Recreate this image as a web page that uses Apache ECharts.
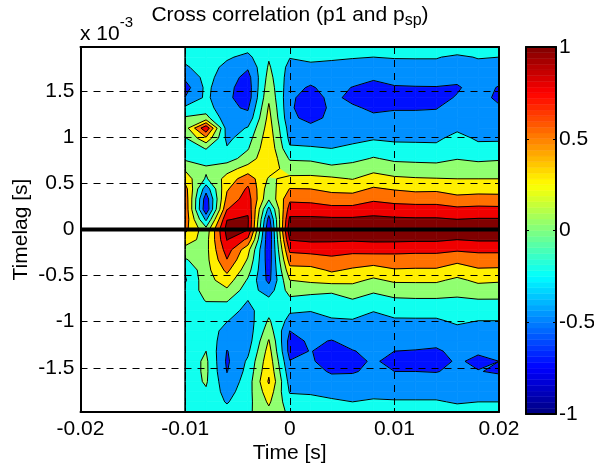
<!DOCTYPE html>
<html>
<head>
<meta charset="utf-8">
<script src="https://cdn.jsdelivr.net/npm/echarts@6/dist/echarts.min.js"></script>
<style>html,body{margin:0;padding:0;background:#fff}#c{width:594px;height:465px}</style>
</head>
<body>
<div id="c"></div>
<script>
// Time grid [s] and lag grid [ms, top to bottom]
var timeS = [-0.01,-0.008,-0.006,-0.004,-0.002,0,0.002,0.004,0.006,0.008,0.01,0.012,0.014,0.016,0.018,0.02];
var lagMs = [1.98,1.87,1.76,1.65,1.54,1.43,1.32,1.21,1.10,0.99,0.88,0.77,0.66,0.55,0.44,0.33,0.22,0.11,0,
  -0.11,-0.22,-0.33,-0.44,-0.55,-0.66,-0.77,-0.88,-0.99,-1.10,-1.21,-1.32,-1.43,-1.54,-1.65,-1.76,-1.87,-1.98];

// Correlation, one list per time column, from the top lag to the bottom lag
var corrT00 = [-.38,-.44,-.53,-.70,-.86,-.74,-.45,-.22,-.12,-.28,-.36,-.30,-.04,.14,.36,.42,.44,.42,.32,.12,-.08,-.28,-.47,-.53,-.42,-.38,-.37,-.40,-.42,-.43,-.42,-.40,-.40,-.39,-.38,-.37,-.36];
var corrT01 = [-.35,-.38,-.40,-.42,-.44,-.45,-.38,-.16,.70,.20,-.24,-.36,-.21,-.28,-.65,-.90,-.95,-.55,-.16,-.10,-.08,-.08,-.09,-.10,-.16,-.24,-.33,-.38,-.37,-.31,-.25,-.20,-.20,-.22,-.28,-.34,-.38];
var corrT02 = [-.36,-.47,-.56,-.62,-.68,-.70,-.70,-.67,-.62,-.56,-.48,-.36,-.10,.10,.22,.33,.49,.74,.85,.76,.62,.49,.31,.13,-.04,-.23,-.38,-.49,-.58,-.67,-.76,-.79,-.76,-.68,-.60,-.52,-.42];
var corrT03 = [-.42,-.56,-.72,-.84,-.88,-.88,-.78,-.67,-.48,-.36,-.27,-.14,.10,.40,.54,.62,.70,.78,.76,.45,.08,-.03,-.15,-.28,-.38,-.50,-.58,-.62,-.63,-.62,-.55,-.46,-.42,-.38,-.35,-.33,-.30];
var corrT04 = [-.30,-.27,-.22,-.16,-.10,-.04,.03,.08,.12,.16,.19,.20,.12,-.03,-.14,-.22,-.58,-.85,-.98,-.97,-.93,-.90,-.86,-.82,-.62,-.44,-.32,-.22,-.12,.02,.10,.16,.21,.28,.15,.04,-.06];
var corrT05 = [-.38,-.49,-.57,-.62,-.66,-.70,-.71,-.69,-.61,-.56,-.47,-.28,-.11,.05,.26,.45,.62,.80,.92,.76,.55,.36,.17,.00,-.15,-.31,-.47,-.58,-.75,-.84,-.84,-.74,-.66,-.59,-.52,-.40,-.30];
var corrT06 = [-.37,-.46,-.54,-.65,-.78,-.87,-.90,-.83,-.68,-.58,-.48,-.30,-.10,.05,.25,.43,.62,.80,.93,.80,.58,.38,.18,.05,-.17,-.36,-.49,-.60,-.66,-.71,-.74,-.72,-.66,-.59,-.52,-.45,-.40];
var corrT07 = [-.36,-.48,-.54,-.58,-.65,-.68,-.70,-.69,-.62,-.58,-.50,-.36,-.19,.04,.19,.36,.58,.79,.93,.79,.60,.44,.28,.12,-.23,-.30,-.42,-.53,-.65,-.76,-.85,-.86,-.78,-.66,-.56,-.47,-.38];
var corrT08 = [-.37,-.49,-.56,-.63,-.76,-.82,-.71,-.65,-.60,-.55,-.46,-.33,-.13,-.01,.17,.36,.58,.79,.93,.78,.58,.37,.22,.06,-.11,-.27,-.38,-.52,-.62,-.68,-.76,-.82,-.77,-.67,-.59,-.50,-.40];
var corrT09 = [-.38,-.50,-.59,-.72,-.82,-.88,-.80,-.70,-.63,-.52,-.39,-.23,-.07,.10,.28,.46,.64,.81,.93,.80,.58,.38,.14,-.04,-.21,-.36,-.49,-.58,-.62,-.66,-.70,-.72,-.70,-.64,-.57,-.47,-.39];
var corrT10 = [-.37,-.49,-.56,-.67,-.77,-.84,-.77,-.69,-.62,-.54,-.43,-.30,-.13,.04,.23,.42,.60,.79,.93,.80,.57,.40,.23,.04,-.14,-.29,-.42,-.53,-.62,-.68,-.75,-.82,-.75,-.66,-.58,-.48,-.39];
var corrT11 = [-.37,-.49,-.55,-.68,-.76,-.83,-.77,-.69,-.62,-.54,-.44,-.31,-.15,.02,.19,.40,.59,.78,.92,.79,.56,.39,.22,.04,-.13,-.28,-.41,-.53,-.62,-.68,-.76,-.82,-.75,-.66,-.58,-.48,-.39];
var corrT12 = [-.37,-.49,-.55,-.66,-.76,-.83,-.76,-.69,-.62,-.54,-.45,-.32,-.16,.01,.20,.40,.59,.78,.92,.79,.56,.39,.22,.04,-.13,-.28,-.41,-.53,-.62,-.69,-.78,-.84,-.76,-.66,-.58,-.48,-.39];
var corrT13 = [-.40,-.53,-.58,-.68,-.78,-.73,-.66,-.58,-.54,-.43,-.36,-.26,-.13,.00,.13,.33,.55,.75,.90,.75,.53,.31,.13,-.05,-.17,-.29,-.37,-.46,-.56,-.63,-.69,-.72,-.70,-.66,-.60,-.52,-.42];
var corrT14 = [-.37,-.49,-.55,-.60,-.64,-.66,-.65,-.62,-.58,-.53,-.44,-.30,-.14,.00,.16,.34,.57,.77,.92,.78,.55,.38,.22,.05,-.11,-.27,-.38,-.50,-.60,-.66,-.72,-.80,-.74,-.66,-.58,-.50,-.41];
var corrT15 = [-.38,-.50,-.56,-.66,-.77,-.80,-.72,-.65,-.59,-.53,-.43,-.28,-.12,.00,.15,.34,.56,.77,.92,.78,.55,.38,.21,.03,-.12,-.27,-.39,-.50,-.58,-.63,-.68,-.75,-.78,-.66,-.58,-.50,-.41];
var corrColumns = [corrT00,corrT01,corrT02,corrT03,corrT04,corrT05,corrT06,corrT07,corrT08,corrT09,corrT10,corrT11,corrT12,corrT13,corrT14,corrT15];

var contourLevels = [-0.75,-0.5,-0.25,0,0.25,0.5,0.75];
var bandColors = ['#0010ff','#0090ff','#10ffef','#90ff70','#ffef00','#ff7000','#f00000','#800000'];

var yTicks = [-1.5,-1,-0.5,0,0.5,1,1.5];
var zeroLineTimes = [-0.02,0.02];
var barSteps = 64;

var FONT = '"Liberation Sans",Arial,sans-serif';
var FS = 21;

function jet(p){ // MATLAB jet colormap at p in 0..1
  function c(v){return Math.round(255*Math.max(0,Math.min(1,v)));}
  var r=Math.min(4*p-1.5,-4*p+4.5), g=Math.min(4*p-0.5,-4*p+3.5), b=Math.min(4*p+0.5,-4*p+2.5);
  return 'rgb('+c(r)+','+c(g)+','+c(b)+')';
}

var nT = timeS.length, nL = lagMs.length, cells = [];
for (var i=0;i<nT-1;i++) for (var j=0;j<nL-1;j++) cells.push([timeS[i],lagMs[j],i,j]);

function corners(i,j){
  return [[timeS[i],lagMs[j],corrColumns[i][j]],
          [timeS[i+1],lagMs[j],corrColumns[i+1][j]],
          [timeS[i+1],lagMs[j+1],corrColumns[i+1][j+1]],
          [timeS[i],lagMs[j+1],corrColumns[i][j+1]]];
}
function lerp(a,b,L){var f=(L-a[2])/(b[2]-a[2]);return [a[0]+(b[0]-a[0])*f,a[1]+(b[1]-a[1])*f,L];}
function clip(poly,L,keepAbove){
  var out=[];
  for(var k=0;k<poly.length;k++){
    var a=poly[k],b=poly[(k+1)%poly.length];
    var ia=keepAbove?a[2]>=L:a[2]<=L, ib=keepAbove?b[2]>=L:b[2]<=L;
    if(ia) out.push(a);
    if(ia!==ib) out.push(lerp(a,b,L));
  }
  return out;
}
function renderFill(params,api){
  var idx=params.dataIndex, i=cells[idx][2], j=cells[idx][3], q=corners(i,j), kids=[];
  for(var b=0;b<bandColors.length;b++){
    var p=q;
    if(b>0) p=clip(p,contourLevels[b-1],true);
    if(p.length&&b<contourLevels.length) p=clip(p,contourLevels[b],false);
    if(p.length>2){
      kids.push({type:'polygon',shape:{points:p.map(function(v){return api.coord([v[0],v[1]]);})},
        style:{fill:bandColors[b],stroke:bandColors[b],lineWidth:0.7},silent:true});
    }
  }
  return {type:'group',children:kids};
}
function renderLines(params,api){
  var idx=params.dataIndex, i=cells[idx][2], j=cells[idx][3], q=corners(i,j), kids=[];
  var style={stroke:'#000',lineWidth:1,opacity:1};
  contourLevels.forEach(function(L){
    var pts=[];
    for(var k=0;k<4;k++){
      var a=q[k],b=q[(k+1)%4];
      if((a[2]<L)!==(b[2]<L)) pts.push(lerp(a,b,L));
    }
    if(pts.length===4){
      var mean=(q[0][2]+q[1][2]+q[2][2]+q[3][2])/4;
      var hi0=q[0][2]>=L;
      if(hi0===(mean>=L)) pts=[pts[1],pts[2],pts[3],pts[0]];
    }
    for(var s=0;s+1<pts.length;s+=2){
      var p0=api.coord([pts[s][0],pts[s][1]]),p1=api.coord([pts[s+1][0],pts[s+1][1]]);
      kids.push({type:'line',shape:{x1:p0[0],y1:p0[1],x2:p1[0],y2:p1[1]},style:style,silent:true});
    }
  });
  if(i===0){
    var a0=api.coord([timeS[0],lagMs[j]]),a1=api.coord([timeS[0],lagMs[j+1]]);
    kids.push({type:'line',shape:{x1:a0[0],y1:a0[1],x2:a1[0],y2:a1[1]},style:{stroke:'#000',lineWidth:1.6},silent:true});
  }
  return {type:'group',children:kids};
}
var barData=[];
for(var s=0;s<barSteps;s++) barData.push([0,-1+2*s/barSteps,s]);
function renderBar(params,api){
  var s=params.dataIndex;
  var a=api.coord([0,-1+2*s/barSteps]),b=api.coord([1,-1+2*(s+1)/barSteps]);
  var col=jet((s+0.5)/barSteps);
  return {type:'rect',shape:{x:a[0],y:b[1],width:b[0]-a[0],height:a[1]-b[1]},style:{fill:col,stroke:col,lineWidth:0.5},silent:true};
}
var blackLine={show:true,onZero:false,lineStyle:{color:'#000',width:2}};
var dash={show:true,lineStyle:{color:'#000',width:1,type:[7,6]}};

var option={
  animation:false,
  backgroundColor:'#fff',
  title:[
    {text:'Cross correlation (p1 and p{s|sp})',left:285,top:-4,textAlign:'center',
     textStyle:{fontFamily:FONT,fontSize:FS,fontWeight:'normal',color:'#000',lineHeight:28,
       rich:{s:{fontFamily:FONT,fontSize:16,color:'#000',padding:[12,0,0,0]}}}},
    {text:'x 10{e|-3}',left:75,top:10,
     textStyle:{fontFamily:FONT,fontSize:FS,fontWeight:'normal',color:'#000',
       rich:{e:{fontFamily:FONT,fontSize:15,color:'#000',padding:[0,0,24,0]}}}}
  ],
  grid:[
    {left:80.5,right:95,top:47,height:365,outerBoundsMode:'none'},
    {left:526,width:30,top:47,height:367,outerBoundsMode:'none'}
  ],
  xAxis:[
    {gridIndex:0,type:'value',min:-0.02,max:0.02,interval:0.01,position:'bottom',z:5,
     axisLine:blackLine,axisTick:{show:true,inside:true,length:4,lineStyle:{color:'#000',width:1}},
     axisLabel:{color:'#000',fontFamily:FONT,fontSize:FS,margin:7},
     splitLine:dash,name:'Time [s]',nameLocation:'middle',nameGap:31,nameMoveOverlap:false,
     nameTextStyle:{color:'#000',fontFamily:FONT,fontSize:FS}},
    {gridIndex:0,type:'value',min:-0.02,max:0.02,interval:0.01,position:'top',z:5,
     axisLine:blackLine,axisTick:{show:true,inside:true,length:4,lineStyle:{color:'#000',width:1}},
     axisLabel:{show:false},splitLine:{show:false}},
    {gridIndex:1,type:'value',min:0,max:1,position:'bottom',z:5,axisLine:blackLine,axisTick:{show:false},axisLabel:{show:false},splitLine:{show:false}},
    {gridIndex:1,type:'value',min:0,max:1,position:'top',z:5,axisLine:blackLine,axisTick:{show:false},axisLabel:{show:false},splitLine:{show:false}}
  ],
  yAxis:[
    {gridIndex:0,type:'value',min:-1.98,max:1.98,position:'left',z:5,
     axisLine:blackLine,axisTick:{show:true,inside:true,length:4,customValues:yTicks,lineStyle:{color:'#000',width:1}},
     axisLabel:{color:'#000',fontFamily:FONT,fontSize:FS,margin:6,customValues:yTicks},
     splitLine:Object.assign({customValues:yTicks},dash),name:'Timelag [s]',nameLocation:'middle',nameGap:49,nameMoveOverlap:false,
     nameTextStyle:{color:'#000',fontFamily:FONT,fontSize:FS}},
    {gridIndex:0,type:'value',min:-1.98,max:1.98,position:'right',z:5,
     axisLine:blackLine,axisTick:{show:true,inside:true,length:4,customValues:yTicks,lineStyle:{color:'#000',width:1}},
     axisLabel:{show:false},splitLine:{show:false}},
    {gridIndex:1,type:'value',min:-1,max:1,interval:0.5,position:'right',z:5,
     axisLine:blackLine,axisTick:{show:true,inside:true,length:3,lineStyle:{color:'#000',width:1}},
     axisLabel:{color:'#000',fontFamily:FONT,fontSize:FS,margin:3},splitLine:{show:false}},
    {gridIndex:1,type:'value',min:-1,max:1,interval:0.5,position:'left',z:5,
     axisLine:blackLine,axisTick:{show:true,inside:true,length:3,lineStyle:{color:'#000',width:1}},
     axisLabel:{show:false},splitLine:{show:false}}
  ],
  series:[
    {type:'custom',name:'Correlation bands',xAxisIndex:0,yAxisIndex:0,z:1,clip:true,silent:true,data:cells,encode:{x:0,y:1},renderItem:renderFill},
    {type:'custom',name:'Contours',xAxisIndex:0,yAxisIndex:0,z:2,clip:true,silent:true,data:cells,encode:{x:0,y:1},renderItem:renderLines},
    {type:'line',name:'Zero lag',xAxisIndex:0,yAxisIndex:0,z:6,symbol:'none',silent:true,
     data:zeroLineTimes.map(function(t){return [t,0];}),lineStyle:{color:'#000',width:4}},
    {type:'custom',name:'Colour bar',xAxisIndex:2,yAxisIndex:2,z:1,silent:true,data:barData,encode:{x:0,y:1},renderItem:renderBar}
  ]
};
echarts.init(document.getElementById('c'),null,{renderer:'canvas'}).setOption(option);
</script>
</body>
</html>
